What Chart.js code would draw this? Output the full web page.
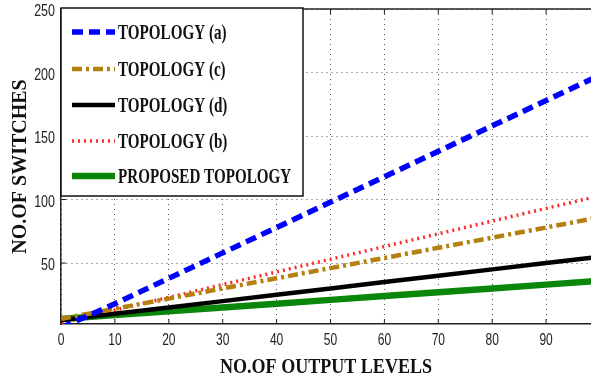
<!DOCTYPE html>
<html>
<head>
<meta charset="utf-8">
<script src="https://cdn.jsdelivr.net/npm/chart.js@4/dist/chart.umd.min.js"></script>
<style>
  html, body { margin: 0; padding: 0; background: #fff; overflow: hidden; }
  #switchChart { display: block; }
</style>
</head>
<body>
<canvas id="switchChart" width="601" height="379"></canvas>
<script>
// switch count vs. number of output levels
const outputLevels = [0, 10, 20, 30, 40, 50, 60, 70, 80, 90, 100];
const topologyA = [-1, 18, 38, 58, 78, 98, 118, 138, 158, 178, 198];
const topologyC = [6, 14, 22, 30, 38, 46, 54, 62, 70, 78, 86];
const topologyD = [5, 10, 15, 20, 25, 30, 35, 40, 45, 50, 55];
const topologyB = [3, 13, 23, 33, 43, 53, 63, 73, 83, 93, 103];
const proposedTopology = [6, 9, 12, 15, 18, 21, 24, 27, 30, 33, 36];

const xTicks = [0, 10, 20, 30, 40, 50, 60, 70, 80, 90];
const yTicks = [50, 100, 150, 200, 250];

function points(values) {
  return values.map((v, i) => ({ x: outputLevels[i], y: v }));
}

function line(label, values, color, width, dash) {
  return {
    label: label,
    data: points(values),
    borderColor: color,
    backgroundColor: color,
    borderWidth: width,
    borderDash: dash,
    pointRadius: 0,
    tension: 0,
    fill: false
  };
}

// text drawn narrow, like the plot's original fonts
function narrowText(ctx, str, x, y, sx, align) {
  ctx.save();
  ctx.translate(x, y);
  ctx.scale(sx, 1);
  ctx.textAlign = align;
  ctx.fillText(str, 0, 0);
  ctx.restore();
}

const frameAndLegend = {
  id: 'frameAndLegend',
  afterDraw(chart) {
    const ctx = chart.ctx;
    const a = chart.chartArea;
    const xs = chart.scales.x, ys = chart.scales.y;
    ctx.save();

    // top edge and inward tick marks
    ctx.strokeStyle = '#222';
    ctx.lineWidth = 1.5;
    ctx.beginPath();
    ctx.moveTo(a.left, a.top);
    ctx.lineTo(a.right, a.top);
    ctx.stroke();
    ctx.lineWidth = 1;
    ctx.beginPath();
    xTicks.forEach(v => {
      const px = xs.getPixelForValue(v);
      ctx.moveTo(px, a.bottom); ctx.lineTo(px, a.bottom - 5);
      ctx.moveTo(px, a.top); ctx.lineTo(px, a.top + 5);
    });
    yTicks.forEach(v => {
      const py = ys.getPixelForValue(v);
      ctx.moveTo(a.left, py); ctx.lineTo(a.left + 5, py);
    });
    ctx.stroke();

    // tick labels
    ctx.fillStyle = '#222';
    ctx.font = '16px "Liberation Sans", Arial, sans-serif';
    ctx.textBaseline = 'alphabetic';
    xTicks.forEach(v => {
      narrowText(ctx, String(v), xs.getPixelForValue(v), 345, 0.75, 'center');
    });
    yTicks.forEach(v => {
      narrowText(ctx, String(v), 55, ys.getPixelForValue(v) + 7, 0.78, 'right');
    });

    // axis titles
    ctx.fillStyle = '#111';
    ctx.font = 'bold 22px "Liberation Serif", "Times New Roman", serif';
    narrowText(ctx, 'NO.OF OUTPUT LEVELS', 326, 373, 0.82, 'center');
    ctx.save();
    ctx.translate(26, (a.top + a.bottom) / 2);
    ctx.rotate(-Math.PI / 2);
    ctx.font = 'bold 20px "Liberation Serif", "Times New Roman", serif';
    ctx.textAlign = 'center';
    ctx.fillText('NO.OF SWITCHES', 0, 0);
    ctx.restore();

    // legend box
    const box = { left: a.left, top: 8, right: 303, bottom: 196 };
    ctx.fillStyle = '#fff';
    ctx.fillRect(box.left, box.top, box.right - box.left, box.bottom - box.top);
    ctx.strokeStyle = '#111';
    ctx.lineWidth = 1.5;
    ctx.strokeRect(box.left, box.top, box.right - box.left, box.bottom - box.top);

    const rows = [32, 69, 105, 141, 176];
    ctx.font = 'bold 21px "Liberation Serif", "Times New Roman", serif';
    chart.data.datasets.forEach((ds, i) => {
      const ry = rows[i];
      ctx.save();
      ctx.strokeStyle = ds.borderColor;
      ctx.lineWidth = ds.borderWidth;
      ctx.setLineDash(ds.borderDash || []);
      ctx.beginPath();
      ctx.moveTo(72, ry);
      ctx.lineTo(115, ry);
      ctx.stroke();
      ctx.restore();
      ctx.fillStyle = '#111';
      narrowText(ctx, ds.label, 118, ry + 7, 0.72, 'left');
    });

    ctx.restore();
  }
};

const ctx = document.getElementById('switchChart').getContext('2d');
const myChart = new Chart(ctx, {
  type: 'line',
  data: {
    datasets: [
      line('TOPOLOGY (a)', topologyA, '#0000ff', 5.5, [11, 6]),
      line('TOPOLOGY (c)', topologyC, '#b5800f', 4.5, [10, 4, 3, 4]),
      line('TOPOLOGY (d)', topologyD, '#000000', 4.5, []),
      line('TOPOLOGY (b)', topologyB, '#ff2a2a', 3.5, [2, 4]),
      line('PROPOSED TOPOLOGY', proposedTopology, '#0a860a', 6.5, [])
    ]
  },
  options: {
    responsive: false,
    animation: false,
    layout: { padding: { top: 9, right: 1, left: 0, bottom: 0 } },
    plugins: {
      legend: { display: false },
      tooltip: { enabled: false }
    },
    scales: {
      x: {
        type: 'linear',
        min: 0,
        max: 100,
        afterBuildTicks: s => { s.ticks = xTicks.map(v => ({ value: v })); },
        afterFit: s => { s.height = 55; },
        ticks: { display: false },
        grid: { color: '#555', lineWidth: 1, drawTicks: false },
        border: { color: '#222', width: 1.5, dash: [1, 4] }
      },
      y: {
        type: 'linear',
        min: 2,
        max: 250,
        afterBuildTicks: s => { s.ticks = yTicks.map(v => ({ value: v })); },
        afterFit: s => { s.width = 61; },
        ticks: { display: false },
        grid: { color: '#555', lineWidth: 1, drawTicks: false },
        border: { color: '#222', width: 1.5, dash: [1, 4] }
      }
    }
  },
  plugins: [frameAndLegend]
});
</script>
</body>
</html>
